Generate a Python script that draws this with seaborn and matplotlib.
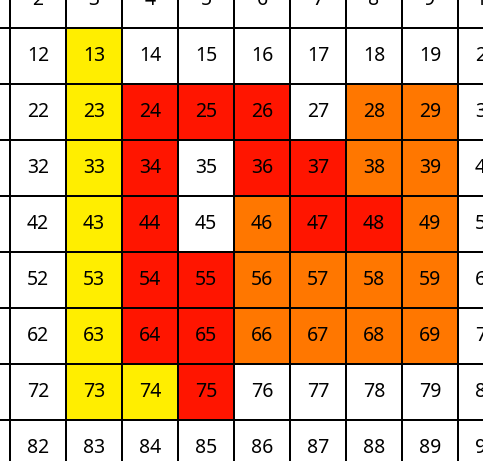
import numpy as np
import matplotlib
matplotlib.use("Agg")
import matplotlib.pyplot as plt
from matplotlib.colors import ListedColormap
import seaborn as sns

# hundreds chart: which numbers are coloured
yellow_nums = [13, 23, 33, 43, 53, 63, 73, 74]
red_nums = [24, 25, 26, 34, 36, 37, 44, 47, 48, 54, 55, 64, 65, 75]
orange_nums = [28, 29, 38, 39, 46, 49, 56, 57, 58, 59, 66, 67, 68, 69]
colors = ["#ffffff", "#ffee00", "#ff1500", "#ff7700"]

numbers = np.arange(1, 101).reshape(10, 10)
codes = np.zeros((10, 10), dtype=int)
for code, nums in enumerate([yellow_nums, red_nums, orange_nums], start=1):
    for n in nums:
        codes[(n - 1) // 10, (n - 1) % 10] = code

plt.rcParams['font.family'] = ['Noto Sans', 'DejaVu Sans']
fig = plt.figure(figsize=(4.83, 4.61), dpi=100)
ax = fig.add_axes([0, 0, 1, 1])
sns.heatmap(codes, ax=ax, cmap=ListedColormap(colors), vmin=-0.5, vmax=3.5,
            annot=numbers, fmt="d", annot_kws={"size": 14, "color": "black"},
            linewidths=1.2, linecolor="black", cbar=False, square=False)
for t in ax.texts:
    t.set_color("black")

# the reference shows a cropped part of the 10x10 grid
cell = 56
ax.set_xlim(1 - 10 / cell, 1 - 10 / cell + 483 / cell)
ax.set_ylim(0.5 + 461 / cell, 0.5)
ax.set_xticks([])
ax.set_yticks([])
ax.axis("off")
fig.savefig("out.png", dpi=100)
